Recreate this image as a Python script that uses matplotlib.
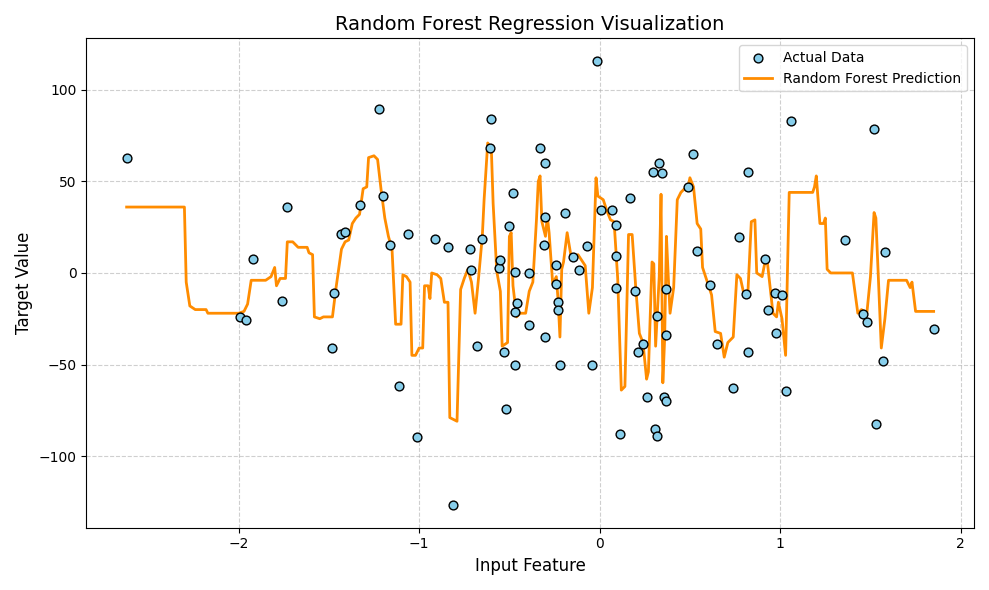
import matplotlib
matplotlib.use("Agg")
import matplotlib.pyplot as plt

x_data = [-2.62,-1.99,-1.96,-1.92,-1.76,-1.73,-1.48,-1.47,-1.43,-1.41,-1.33,-1.22,-1.20,-1.16,-1.11,-1.06,-1.01,-0.91,-0.84,-0.81,
          -0.72,-0.71,-0.68,-0.65,-0.61,-0.60,-0.56,-0.55,-0.53,-0.52,-0.50,-0.48,-0.47,-0.47,-0.46,-0.47,-0.39,-0.39,-0.33,-0.31,
          -0.30,-0.30,-0.30,-0.24,-0.24,-0.23,-0.23,-0.22,-0.19,-0.15,-0.115,-0.07,-0.04,-0.016,0.005,0.066,0.088,0.093,0.093,0.11,
          0.17,0.197,0.21,0.24,0.26,0.296,0.307,0.32,0.32,0.33,0.345,0.356,0.367,0.367,0.37,0.49,0.515,0.54,0.61,0.65,
          0.74,0.77,0.81,0.82,0.82,0.915,0.93,0.97,0.975,1.01,1.03,1.06,1.36,1.46,1.48,1.52,1.53,1.57,1.58,1.85]
y_data = [62.7,-24,-25.7,7.5,-15.5,36,-41,-11,21.4,22.5,37,89.5,41.8,15,-62,21.4,-89.5,18.8,14,-127,
          13,1.6,-39.7,18.8,68,84,2.7,7,-43,-74.5,25.7,43.4,0.5,-21.4,-16.6,-50,-28.4,0,68,15.5,
          60,30.6,-35,4.3,-6,-16,-20,-50,33,8.6,1.6,14.5,-50.4,116,34.3,34.3,26.3,9,-8,-88,
          40.8,-9.7,-43,-38.6,-68,55.2,-85,-23.6,-89,60,54.7,-67.6,-69.7,-33.8,-9,47,65,11.8,-6.4,-38.6,
          -63,19.8,-11.3,-43,55.2,7.5,-20.4,-10.7,-32.7,-11.8,-64.3,83,18.2,-22.5,-26.8,78.8,-82.6,-48.3,11.3,-30.6]

pred = [(-2.62,36),(-2.3,36),(-2.29,-5),(-2.27,-18),(-2.24,-20),(-2.18,-20),(-2.17,-22),(-2.0,-22),(-1.97,-21),(-1.95,-17),(-1.93,-4),(-1.85,-4),(-1.82,-2),(-1.80,3),(-1.79,-7),(-1.77,-3),(-1.74,-3),(-1.73,17),(-1.70,17),(-1.67,14),(-1.62,14),(-1.61,11),(-1.59,10),(-1.58,-24),(-1.55,-25),(-1.53,-24),(-1.48,-24),(-1.46,-8),(-1.43,13),(-1.41,17),(-1.39,18),(-1.37,27),(-1.35,30),(-1.33,32),(-1.31,46),(-1.29,47),(-1.28,63),(-1.25,64),(-1.23,62),(-1.21,45),(-1.19,30),(-1.17,20),(-1.15,13),(-1.13,-28),(-1.10,-28),(-1.09,-1),(-1.07,-2),(-1.05,-5),(-1.04,-45),(-1.02,-45),(-1.0,-41),(-0.98,-41),(-0.97,-7),(-0.95,-7),(-0.94,-14),(-0.93,0),(-0.90,-1),(-0.88,-3),(-0.86,-16),(-0.84,-16),(-0.83,-79),(-0.79,-81),(-0.77,-9),(-0.75,-3),(-0.73,2),(-0.71,-5),(-0.69,-22),(-0.67,-2),(-0.65,20),(-0.64,40),(-0.62,71),(-0.60,68),(-0.59,38),(-0.57,1),(-0.55,-10),(-0.54,-40),(-0.51,-38),(-0.50,20),(-0.49,22),(-0.48,-7),(-0.46,-24),(-0.44,-22),(-0.41,-22),(-0.39,-10),(-0.37,-5),(-0.35,29),(-0.34,50),(-0.33,53),(-0.32,28),(-0.30,20),(-0.29,31),(-0.28,22),(-0.26,-6),(-0.24,-2),(-0.23,-15),(-0.22,-35),(-0.21,2),(-0.20,6),(-0.18,22),(-0.16,10),(-0.14,8),(-0.12,10),(-0.08,4),(-0.06,-22),(-0.04,-8),(-0.02,52),(-0.01,42),(0.02,40),(0.04,34),(0.06,29),(0.08,28),(0.10,-3),(0.12,-64),(0.14,-62),(0.16,21),(0.18,21),(0.20,-8),(0.22,-33),(0.24,-38),(0.26,-58),(0.27,-54),(0.29,6),(0.30,5),(0.31,-40),(0.33,-2),(0.34,43),(0.35,-60),(0.36,-36),(0.37,20),(0.38,-2),(0.39,-22),(0.41,-8),(0.43,40),(0.45,44),(0.47,46),(0.49,47),(0.50,52),(0.52,47),(0.54,27),(0.56,24),(0.57,3),(0.60,-6),(0.62,-12),(0.64,-32),(0.67,-33),(0.69,-46),(0.71,-38),(0.74,-35),(0.76,-1),(0.78,-3),(0.80,-12),(0.82,-13),(0.84,28),(0.86,29),(0.87,0),(0.90,-2),(0.92,8),(0.93,5),(0.96,-22),(0.98,-24),(0.99,-16),(1.01,-25),(1.03,-45),(1.05,44),(1.18,44),(1.19,47),(1.20,53),(1.22,27),(1.24,27),(1.25,30),(1.26,2),(1.28,0),(1.40,0),(1.43,-22),(1.45,-20),(1.48,-22),(1.50,-2),(1.52,33),(1.53,30),(1.56,-41),(1.58,-25),(1.60,-4),(1.70,-4),(1.72,-8),(1.73,-5),(1.75,-21),(1.85,-21)]
x_pred = [p[0] for p in pred]
y_pred = [p[1] for p in pred]

fig, ax = plt.subplots(figsize=(9.89, 5.9), dpi=100)
ax.scatter(x_data, y_data, color="skyblue", edgecolor="black", s=40, label="Actual Data", zorder=3)
ax.plot(x_pred, y_pred, color="darkorange", lw=2, label="Random Forest Prediction", zorder=2)
ax.set_title("Random Forest Regression Visualization", fontsize=14)
ax.set_xlabel("Input Feature", fontsize=12)
ax.set_ylabel("Target Value", fontsize=12)
ax.grid(True, linestyle="--", alpha=0.6)
ax.legend(loc="upper right")
fig.tight_layout()
fig.savefig("out.png")
